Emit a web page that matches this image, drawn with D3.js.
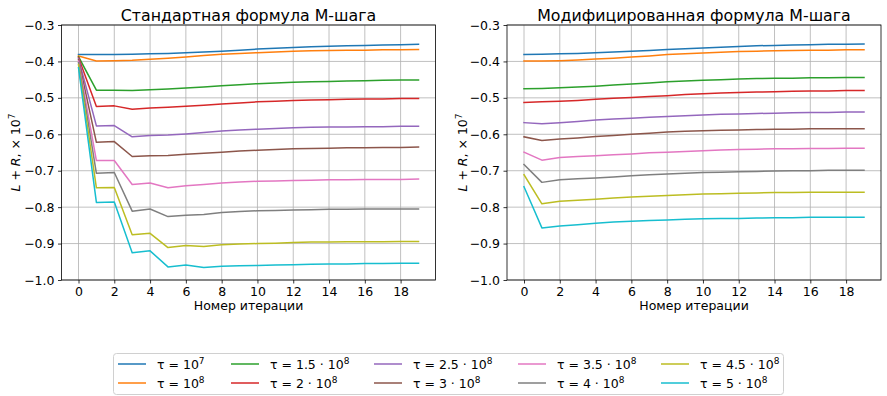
<!DOCTYPE html>
<html><head><meta charset="utf-8">
<script src="https://cdn.jsdelivr.net/npm/d3@7"></script>
<style>
html,body{margin:0;padding:0;background:#fff;}
svg text{font-family:"DejaVu Sans",sans-serif;}
</style></head>
<body>
<svg id="chart" width="887" height="396"></svg>
<script>
const iterations = d3.range(0, 20);
const tauLabels = [["10","7"],["10","8"],["1.5 · 10","8"],["2 · 10","8"],["2.5 · 10","8"],["3 · 10","8"],["3.5 · 10","8"],["4 · 10","8"],["4.5 · 10","8"],["5 · 10","8"]];
const colors = ["#1f77b4","#ff7f0e","#2ca02c","#d62728","#9467bd","#8c564b","#e377c2","#7f7f7f","#bcbd22","#17becf"];
const titles = ["Стандартная формула М-шага","Модифицированная формула М-шага"];
const xTicks = [0,2,4,6,8,10,12,14,16,18];
const yTicks = [-1.0,-0.9,-0.8,-0.7,-0.6,-0.5,-0.4,-0.3];

// Standard formula
const std1 = [-0.381,-0.381,-0.381,-0.380,-0.379,-0.378,-0.376,-0.374,-0.372,-0.369,-0.366,-0.364,-0.362,-0.360,-0.358,-0.357,-0.356,-0.355,-0.354,-0.353];
const std2 = [-0.385,-0.399,-0.398,-0.397,-0.394,-0.391,-0.388,-0.384,-0.380,-0.378,-0.376,-0.374,-0.372,-0.371,-0.370,-0.369,-0.369,-0.368,-0.368,-0.367];
const std3 = [-0.387,-0.479,-0.479,-0.480,-0.478,-0.476,-0.473,-0.470,-0.467,-0.464,-0.461,-0.459,-0.457,-0.456,-0.455,-0.454,-0.453,-0.452,-0.451,-0.451];
const std4 = [-0.389,-0.524,-0.522,-0.531,-0.528,-0.526,-0.523,-0.520,-0.517,-0.514,-0.511,-0.509,-0.507,-0.506,-0.505,-0.504,-0.503,-0.503,-0.502,-0.502];
const std5 = [-0.392,-0.577,-0.576,-0.607,-0.603,-0.602,-0.599,-0.595,-0.591,-0.588,-0.586,-0.584,-0.582,-0.581,-0.580,-0.580,-0.579,-0.579,-0.578,-0.578];
const std6 = [-0.395,-0.622,-0.620,-0.661,-0.659,-0.658,-0.655,-0.652,-0.649,-0.646,-0.644,-0.642,-0.640,-0.639,-0.638,-0.637,-0.637,-0.636,-0.636,-0.635];
const std7 = [-0.399,-0.672,-0.672,-0.738,-0.734,-0.747,-0.741,-0.738,-0.734,-0.731,-0.729,-0.728,-0.727,-0.726,-0.725,-0.725,-0.724,-0.724,-0.724,-0.723];
const std8 = [-0.403,-0.707,-0.705,-0.811,-0.805,-0.826,-0.822,-0.820,-0.815,-0.812,-0.810,-0.809,-0.808,-0.807,-0.806,-0.806,-0.805,-0.805,-0.805,-0.805];
const std9 = [-0.409,-0.747,-0.746,-0.876,-0.872,-0.911,-0.905,-0.908,-0.903,-0.901,-0.900,-0.899,-0.897,-0.896,-0.896,-0.895,-0.895,-0.895,-0.894,-0.894];
const std10 = [-0.417,-0.787,-0.786,-0.925,-0.920,-0.964,-0.959,-0.966,-0.962,-0.961,-0.960,-0.959,-0.958,-0.957,-0.956,-0.956,-0.955,-0.955,-0.954,-0.954];

// Modified formula
const mod1 = [-0.381,-0.380,-0.379,-0.378,-0.376,-0.374,-0.372,-0.370,-0.367,-0.365,-0.363,-0.361,-0.359,-0.357,-0.356,-0.355,-0.354,-0.353,-0.353,-0.352];
const mod2 = [-0.399,-0.399,-0.398,-0.396,-0.393,-0.391,-0.388,-0.385,-0.381,-0.379,-0.377,-0.375,-0.373,-0.372,-0.371,-0.370,-0.369,-0.369,-0.368,-0.368];
const mod3 = [-0.475,-0.474,-0.472,-0.470,-0.468,-0.465,-0.462,-0.459,-0.456,-0.454,-0.452,-0.450,-0.448,-0.447,-0.446,-0.446,-0.445,-0.445,-0.444,-0.444];
const mod4 = [-0.513,-0.511,-0.509,-0.507,-0.504,-0.501,-0.499,-0.496,-0.494,-0.491,-0.489,-0.487,-0.485,-0.484,-0.483,-0.482,-0.481,-0.481,-0.480,-0.480];
const mod5 = [-0.568,-0.571,-0.568,-0.565,-0.561,-0.558,-0.556,-0.553,-0.551,-0.549,-0.547,-0.545,-0.544,-0.543,-0.542,-0.541,-0.540,-0.540,-0.539,-0.539];
const mod6 = [-0.607,-0.617,-0.613,-0.610,-0.606,-0.603,-0.600,-0.597,-0.594,-0.592,-0.590,-0.589,-0.588,-0.587,-0.586,-0.586,-0.585,-0.585,-0.585,-0.585];
const mod7 = [-0.649,-0.671,-0.664,-0.661,-0.659,-0.656,-0.654,-0.651,-0.649,-0.647,-0.645,-0.643,-0.642,-0.641,-0.640,-0.640,-0.639,-0.639,-0.638,-0.638];
const mod8 = [-0.683,-0.732,-0.725,-0.722,-0.720,-0.717,-0.714,-0.711,-0.709,-0.707,-0.705,-0.704,-0.703,-0.702,-0.701,-0.700,-0.700,-0.699,-0.699,-0.699];
const mod9 = [-0.711,-0.791,-0.784,-0.781,-0.778,-0.775,-0.772,-0.770,-0.768,-0.766,-0.764,-0.763,-0.762,-0.761,-0.760,-0.760,-0.759,-0.759,-0.759,-0.759];
const mod10 = [-0.744,-0.857,-0.852,-0.848,-0.844,-0.841,-0.839,-0.837,-0.835,-0.833,-0.832,-0.831,-0.831,-0.830,-0.829,-0.829,-0.828,-0.828,-0.828,-0.828];

const panels = [
  {series:[std1,std2,std3,std4,std5,std6,std7,std8,std9,std10], left:61.5, ylabX:15},
  {series:[mod1,mod2,mod3,mod4,mod5,mod6,mod7,mod8,mod9,mod10], left:507, ylabX:462}
];
const plotTop = 25, plotBottom = 280, pw = 374;
const svg = d3.select("#chart");

panels.forEach((p, pi) => {
  const x = d3.scaleLinear().domain([-0.95, 19.95]).range([p.left, p.left + pw]);
  const y = d3.scaleLinear().domain([-1.0, -0.3]).range([plotBottom, plotTop]);
  const g = svg.append("g");
  // grid
  g.append("g").selectAll("line").data(xTicks).join("line")
    .attr("x1", d => x(d)).attr("x2", d => x(d)).attr("y1", plotTop).attr("y2", plotBottom)
    .attr("stroke", "#b0b0b0").attr("stroke-width", 0.8);
  g.append("g").selectAll("line").data(yTicks).join("line")
    .attr("y1", d => y(d)).attr("y2", d => y(d)).attr("x1", p.left).attr("x2", p.left + pw)
    .attr("stroke", "#b0b0b0").attr("stroke-width", 0.8);
  // lines
  const line = d3.line().x((d, i) => x(iterations[i])).y(d => y(d));
  g.append("g").selectAll("path").data(p.series).join("path")
    .attr("d", d => line(d)).attr("fill", "none")
    .attr("stroke", (d, i) => colors[i]).attr("stroke-width", 1.5)
    .attr("stroke-linejoin", "round").attr("stroke-linecap", "square");
  // spines
  g.append("rect").attr("x", p.left).attr("y", plotTop).attr("width", pw).attr("height", plotBottom - plotTop)
    .attr("fill", "none").attr("stroke", "#000").attr("stroke-width", 0.8);
  // axes
  const xa = g.append("g").attr("transform", `translate(0,${plotBottom})`)
    .call(d3.axisBottom(x).tickValues(xTicks).tickSize(3.5).tickPadding(3.5).tickFormat(d3.format("d")));
  const ya = g.append("g").attr("transform", `translate(${p.left},0)`)
    .call(d3.axisLeft(y).tickValues(yTicks).tickSize(3.5).tickPadding(3.5).tickFormat(d3.format(".1f")));
  [xa, ya].forEach(a => {
    a.select(".domain").remove();
    a.selectAll("line").attr("stroke", "#000").attr("stroke-width", 0.8);
    a.selectAll("text").attr("font-size", 12.5).attr("fill", "#000").attr("font-family", "DejaVu Sans");
  });
  // title
  g.append("text").attr("x", p.left + pw / 2).attr("y", 21).attr("text-anchor", "middle")
    .attr("font-size", 15.8).text(titles[pi]);
  // x label
  g.append("text").attr("x", p.left + pw / 2).attr("y", 310).attr("text-anchor", "middle")
    .attr("font-size", 12.5).text("Номер итерации");
  // y label
  const yl = g.append("text").attr("transform", `translate(${p.ylabX + 5},${(plotTop + plotBottom) / 2}) rotate(-90)`)
    .attr("text-anchor", "middle").attr("font-size", 12.5);
  yl.append("tspan").attr("font-style", "italic").text("L");
  yl.append("tspan").text(" + ");
  yl.append("tspan").attr("font-style", "italic").text("R");
  yl.append("tspan").text(", × 10");
  yl.append("tspan").attr("font-size", 9).attr("dy", -5).text("7");
});

// legend
const lg = svg.append("g");
lg.append("rect").attr("x", 113.5).attr("y", 353.5).attr("width", 670).attr("height", 41).attr("rx", 3)
  .attr("fill", "#fff").attr("stroke", "#d0d0d0").attr("stroke-width", 1);
const colX = [118, 231, 374, 518, 661];
const rowY = [364, 383];
tauLabels.forEach((lab, i) => {
  const c = Math.floor(i / 2), r = i % 2;
  const cx = colX[c], cy = rowY[r];
  lg.append("line").attr("x1", cx).attr("x2", cx + 28).attr("y1", cy).attr("y2", cy)
    .attr("stroke", colors[i]).attr("stroke-width", 1.5);
  const t = lg.append("text").attr("x", cx + 39).attr("y", cy + 4.5).attr("font-size", 12.5);
  t.append("tspan").text("τ = " + lab[0]);
  t.append("tspan").attr("font-size", 9).attr("dy", -5).text(lab[1]);
});
</script>
</body></html>
